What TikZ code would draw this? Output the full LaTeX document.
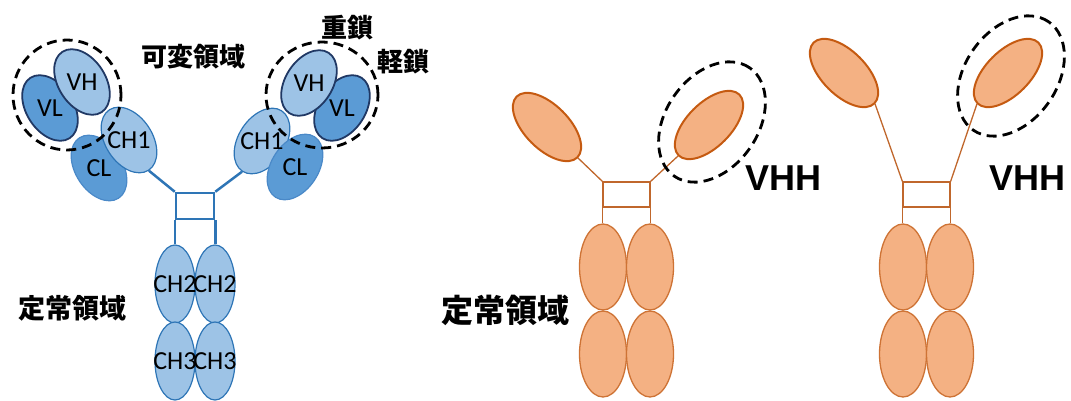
\documentclass[tikz,border=0pt]{standalone}
\usepackage{fontspec}
\setmainfont{Carlito}
\newfontfamily\jpfont{Noto Sans CJK JP}
\newfontfamily\vhhfont{Liberation Sans}
\usetikzlibrary{shapes.geometric}

\definecolor{abPale}{HTML}{9DC3E6}
\definecolor{abMid}{HTML}{5B9BD5}
\definecolor{abLine}{HTML}{2E75B6}
\definecolor{abNavy}{HTML}{203864}
\definecolor{abEdge}{HTML}{4A89C8}
\definecolor{nbFill}{HTML}{F4B183}
\definecolor{nbEdge}{HTML}{C55A11}
\definecolor{nbLine}{HTML}{C0672C}

\tikzset{
  dom/.style={ellipse, inner sep=0pt, minimum width=72pt, minimum height=47pt},
  vhdom/.style={dom, fill=abPale, draw=abNavy, line width=1.8pt},
  vldom/.style={dom, fill=abMid, draw=abNavy, line width=1.8pt},
  chdom/.style={dom, fill=abPale, draw=abLine, line width=1.2pt},
  cldom/.style={dom, fill=abMid, draw=abEdge, line width=1.2pt},
  fcdom/.style={ellipse, inner sep=0pt, minimum width=40pt, minimum height=78pt,
    fill=abPale, draw=abLine, line width=1.2pt},
  hinge/.style={rectangle, inner sep=0pt, draw=abLine, line width=2.5pt,
    minimum width=38pt, minimum height=26pt},
  link/.style={draw=abLine, line width=2.5pt},
  nbarm/.style={ellipse, inner sep=0pt, minimum width=86pt, minimum height=44pt,
    fill=nbFill, draw=nbEdge, line width=2pt},
  nbfc/.style={ellipse, inner sep=0pt, minimum width=47pt, minimum height=86pt,
    fill=nbFill, draw=nbEdge!85!white, line width=1.3pt},
  nbhinge/.style={rectangle, inner sep=0pt, draw=nbLine, line width=1.3pt,
    minimum width=47pt, minimum height=25pt},
  nblink/.style={draw=nbLine, line width=1.3pt},
  ring/.style={ellipse, inner sep=0pt, draw=black, line width=2.8pt,
    dash pattern=on 10pt off 6pt},
  lbl/.style={inner sep=0pt, font=\fontsize{26}{26}\selectfont},
  jp/.style={inner sep=0pt, font=\jpfont\bfseries\fontsize{26}{26}\selectfont},
  vhh/.style={inner sep=0pt, font=\vhhfont\bfseries\fontsize{36}{36}\selectfont}
}

\begin{document}
\begin{tikzpicture}[x=1pt, y=-1pt]
\useasboundingbox (0,0) rectangle (1071,401);

% IgG, left arm
\node[cldom, rotate=-57] (clL) at (99,168) {};
\node[chdom, rotate=-57] (ch1L) at (129,140) {};
\node[vldom, rotate=-57] (vlL) at (50,108) {};
\node[vhdom, rotate=-57] (vhL) at (82,82) {};
% IgG, right arm
\node[chdom, rotate=57] (ch1R) at (262,141) {};
\node[cldom, rotate=57] (clR) at (295,167) {};
\node[vldom, rotate=57] (vlR) at (342,108) {};
\node[vhdom, rotate=57] (vhR) at (309,83) {};

% hinge and Fc
\node[hinge] (boxL) at (195,206) {};
\node[fcdom] (ch2a) at (175,284) {};
\node[fcdom] (ch2b) at (215,284) {};
\node[fcdom] (ch3a) at (175,361) {};
\node[fcdom] (ch3b) at (215,361) {};
\draw[link] (ch1L.east) -- (boxL.north west);
\draw[link] (ch1R.west) -- (boxL.north east);
\draw[link] (boxL.south west) -- (boxL.south west |- ch2a.north);
\draw[link] (boxL.south east) -- (boxL.south east |- ch2b.north);

\node[lbl] (tvhL) at (vhL) {VH};
\node[lbl] (tvlL) at (vlL) {VL};
\node[lbl] (tch1L) at (ch1L) {CH1};
\node[lbl] (tclL) at (clL) {CL};
\node[lbl] (tvhR) at (vhR) {VH};
\node[lbl] (tvlR) at (vlR) {VL};
\node[lbl] (tch1R) at (ch1R) {CH1};
\node[lbl] (tclR) at (clR) {CL};
\node[lbl] (tch2a) at (ch2a) {CH2};
\node[lbl] (tch2b) at (ch2b) {CH2};
\node[lbl] (tch3a) at (ch3a) {CH3};
\node[lbl] (tch3b) at (ch3b) {CH3};

\node[ring, minimum width=108pt, minimum height=110pt] (ringL) at (67,95) {};
\node[ring, minimum width=112pt, minimum height=106pt] (ringR) at (322,95) {};

\node[jp] (varReg) at (193,57) {可変領域};
\node[jp] (heavy) at (347,28) {重鎖};
\node[jp] (light) at (403,62) {軽鎖};
\node[jp, font=\jpfont\bfseries\fontsize{27}{27}\selectfont] (constL) at (73,308) {定常領域};

% heavy-chain-only antibody, middle
\node[nbarm, rotate=-45] (armA) at (547,127) {};
\node[nbarm, rotate=45] (armB) at (709,125) {};
\node[nbhinge] (boxM) at (626.5,194.5) {};
\node[nbfc] (fcA) at (603,267) {};
\node[nbfc] (fcB) at (650,267) {};
\node[nbfc] (fcC) at (603,354) {};
\node[nbfc] (fcD) at (650,354) {};
\draw[nblink] (armA.east) -- (boxM.north west);
\draw[nblink] (armB.west) -- (boxM.north east);
\draw[nblink] (boxM.south west) -- (boxM.south west |- fcA.north);
\draw[nblink] (boxM.south east) -- (boxM.south east |- fcB.north);
\node[ring, rotate=55, minimum width=132pt, minimum height=92pt] (ringM) at (712,122) {};
\node[vhh] (vhhM) at (783,178) {VHH};
\node[jp, font=\jpfont\bfseries\fontsize{32}{32}\selectfont] (constM) at (505,310) {定常領域};

% heavy-chain-only antibody, right
\node[nbarm, rotate=-45] (armC) at (844,73) {};
\node[nbarm, rotate=45] (armD) at (1008,73) {};
\node[nbhinge] (boxN) at (926.5,194.5) {};
\node[nbfc] (fcE) at (903,267) {};
\node[nbfc] (fcF) at (950,267) {};
\node[nbfc] (fcG) at (903,354) {};
\node[nbfc] (fcH) at (950,354) {};
\draw[nblink] (armC.east) -- (boxN.north west);
\draw[nblink] (armD.west) -- (boxN.north east);
\draw[nblink] (boxN.south west) -- (boxN.south west |- fcE.north);
\draw[nblink] (boxN.south east) -- (boxN.south east |- fcF.north);
\node[ring, rotate=55, minimum width=132pt, minimum height=92pt] (ringN) at (1011,76) {};
\node[vhh] (vhhN) at (1027,178) {VHH};
\end{tikzpicture}
\end{document}
